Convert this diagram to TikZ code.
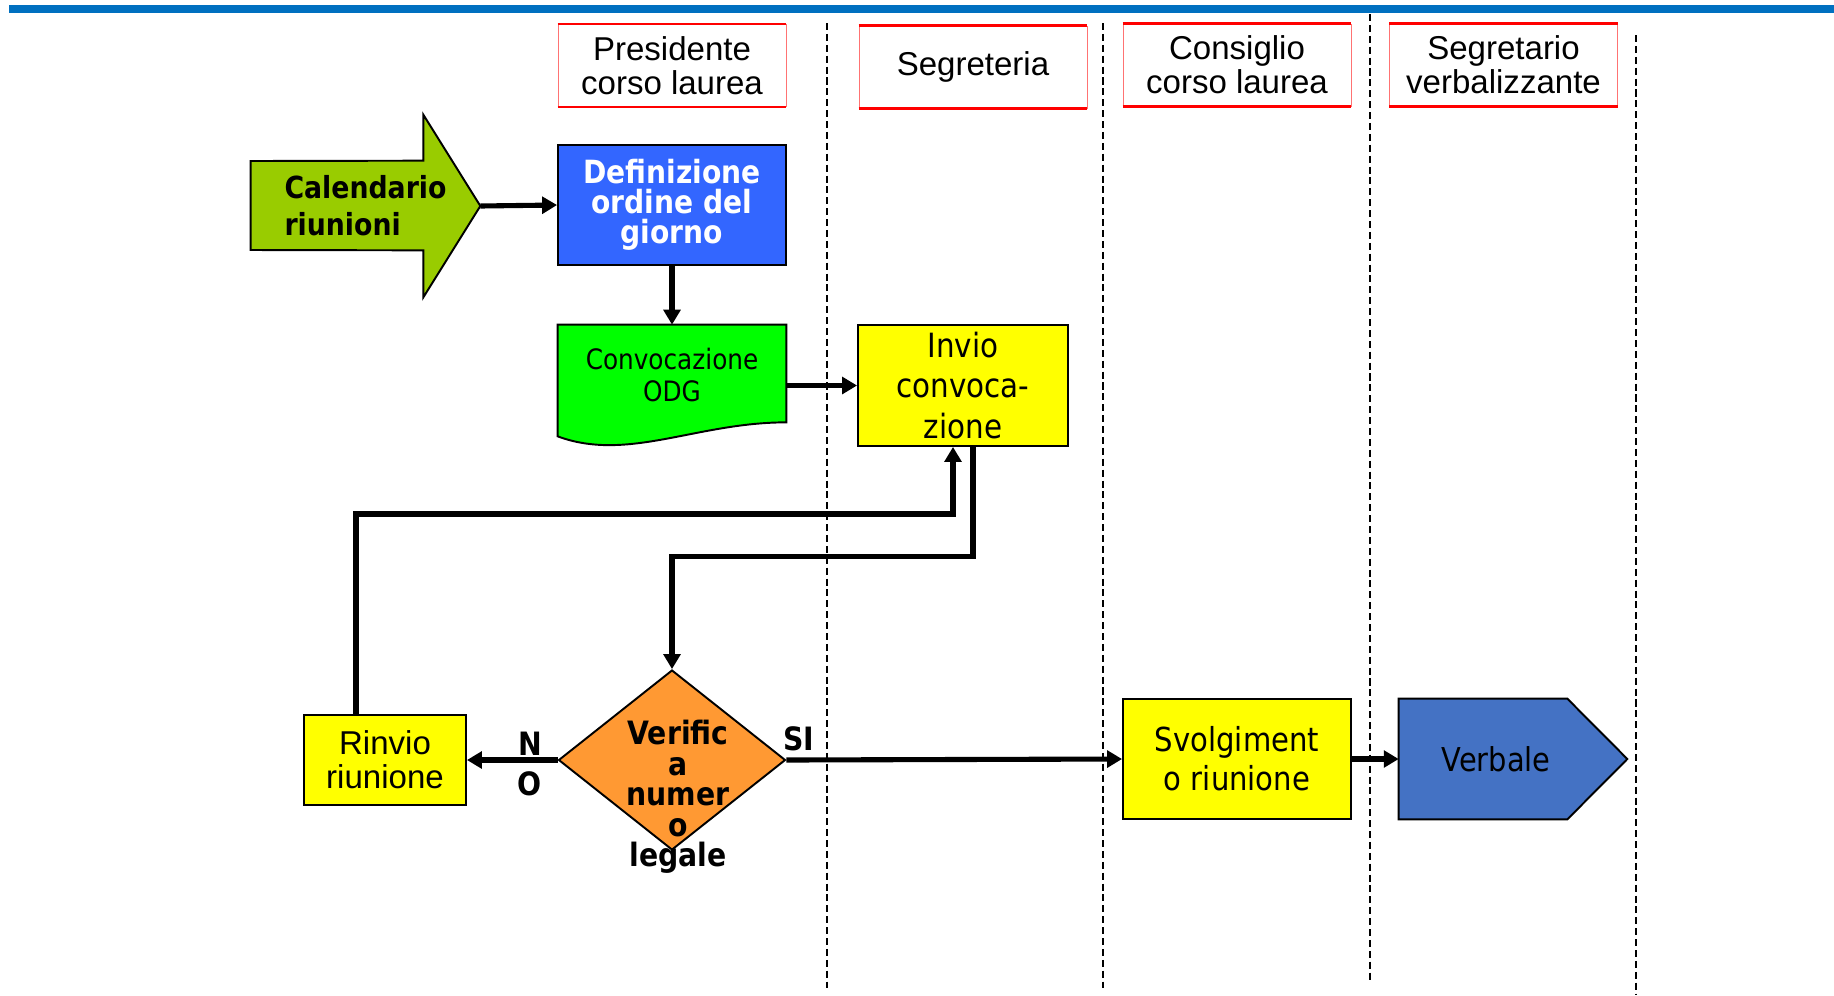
\documentclass[tikz,border=0pt]{standalone}
\usepackage{fontspec}
\setmainfont{Liberation Sans}
\newfontfamily\tahoma{DejaVu Sans}[FakeStretch=0.88]
\usepackage{xcolor}
\definecolor{fcbar}{RGB}{0,112,192}
\definecolor{fclime}{RGB}{153,204,0}
\definecolor{fcblue}{RGB}{51,102,255}
\definecolor{fcgreen}{RGB}{0,255,0}
\definecolor{fcyellow}{RGB}{255,255,0}
\definecolor{fcorange}{RGB}{255,153,51}
\definecolor{fcsteel}{RGB}{68,114,196}
\usetikzlibrary{arrows.meta, shapes.geometric, calc, backgrounds}

\tikzset{
  lanehead/.style={draw=red!55, line width=0.5pt, minimum width=4.56cm, minimum height=1.64cm,
    inner sep=0pt, align=center, font=\fontsize{18.8pt}{19.3pt}\selectfont},
  box/.style={draw, line width=1.1pt, inner sep=0pt, align=center},
  flow/.style={line width=2.9pt, -{Triangle[length=8.5pt,width=9.5pt]}},
  lane/.style={line width=1pt, dash pattern=on 4pt off 2.2pt},
}

\begin{document}
\begin{tikzpicture}[x=0.02cm, y=-0.02cm]
      \useasboundingbox (0,0) rectangle (1834,995);
      % Top bar
      \fill[fcbar] (9,5) rectangle (1834,13);
      % Lane separators
      \draw[lane] (827,23) -- (827,988);
      \draw[lane] (1103,23) -- (1103,988);
      \draw[lane] (1370,14) -- (1370,980);
      \draw[lane] (1636,35) -- (1636,994);
      % Lane headers
      \node[lanehead] (hpres) at (672,65.5) {Presidente\\corso laurea};
      \node[lanehead] (hsegr) at (973,67) {Segreteria};
      \node[lanehead] (hcons) at (1237,65) {Consiglio\\corso laurea};
      \node[lanehead] (hverb) at (1503.5,65) {Segretario\\verbalizzante};
      \foreach \h in {hpres,hsegr,hcons,hverb}
        \draw[red, line width=1.6pt] (\h.north west) -- (\h.north east) (\h.south west) -- (\h.south east);
      % Process steps
      \node[align=left, inner sep=0pt, minimum width=4.58cm, minimum height=3.64cm,
        font=\tahoma\bfseries\fontsize{17.3pt}{21pt}\selectfont] (cal) at (365.5,206) {Calendario\\riunioni};
      \node[box, fill=fcblue, text=white, minimum width=4.56cm, minimum height=2.4cm,
        font=\tahoma\bfseries\fontsize{18.2pt}{17pt}\selectfont] (def) at (672,205) {Definizione\\ordine del\\giorno};
      \node[align=center, inner sep=0pt, minimum width=4.56cm, minimum height=2.42cm, text depth=12pt,
        font=\tahoma\fontsize{16pt}{18.2pt}\selectfont] (odg) at (672,385.5) {Convocazione\\ODG};
      \node[box, fill=fcyellow, minimum width=4.2cm, minimum height=2.42cm,
        font=\tahoma\fontsize{19pt}{22.8pt}\selectfont] (invio) at (963,385.5) {Invio\\convoca-\\zione};
      \node[diamond, draw, fill=fcorange, line width=1.1pt, inner sep=0pt,
        minimum width=4.54cm, minimum height=3.6cm] (ver) at (672,760) {};
      \node[align=center, inner sep=0pt, font=\tahoma\bfseries\fontsize{18.3pt}{17.4pt}\selectfont]
        (vertxt) at (678,797) {Verific\\a\\numer\\o\\legale};
      \node[box, fill=fcyellow, minimum width=3.24cm, minimum height=1.8cm,
        font=\fontsize{18.8pt}{19.3pt}\selectfont] (rinvio) at (385,760) {Rinvio\\riunione};
      \node[box, fill=fcyellow, minimum width=4.56cm, minimum height=2.4cm,
        font=\tahoma\fontsize{18.8pt}{22.2pt}\selectfont] (svolg) at (1237,759) {Svolgiment\\o riunione};
      \node[inner sep=0pt, minimum width=4.56cm, minimum height=2.4cm,
        font=\tahoma\fontsize{18.7pt}{22pt}\selectfont] (verb) at (1513,759) {Verbale\kern0.68cm};
      % Branch labels
      \node[align=center, inner sep=0pt, font=\tahoma\bfseries\fontsize{18.3pt}{22.8pt}\selectfont] (nolab) at (530,764) {N\\O};
      \node[inner sep=0pt, font=\tahoma\bfseries\fontsize{18.3pt}{22pt}\selectfont] (silab) at (799,739) {SI};
      % Outlined shapes behind the texts
      \begin{scope}[on background layer]
        \draw[fill=fclime, line width=1.1pt] ($(cal.west)+(0,-45)$) -- ($(cal.north east)+(-57,46)$)
          -- ($(cal.north east)+(-57,0)$) -- (cal.east) -- ($(cal.south east)+(-57,0)$)
          -- ($(cal.south east)+(-57,-47)$) -- ($(cal.west)+(0,44)$) -- cycle;
        \draw[fill=fcgreen, line width=1.1pt] (odg.north west) -- (odg.north east) -- ($(odg.south east)+(0,-24)$)
          .. controls ($(odg.south east)+(-90,-24)$) and ($(odg.south west)+(70,16)$) .. ($(odg.south west)+(0,-10)$) -- cycle;
        \draw[fill=fcsteel, line width=1.1pt] (verb.north west) -- ($(verb.north east)+(-60,0)$) -- (verb.east)
          -- ($(verb.south east)+(-60,0)$) -- (verb.south west) -- cycle;
      \end{scope}
      % Connectors
      \draw[flow] (cal.east) -- (def.west);
      \draw[flow] (def.south) -- (odg.north);
      \draw[flow] (odg.east) -- (invio.west);
      \draw[flow] ($(invio.south)+(10,0)$) |- ($(ver.north)+(0,-113)$) -- (ver.north);
      \draw[flow] ($(rinvio.north)+(-29,0)$) |- ($(invio.south)+(-10,67)$) -- ($(invio.south)+(-10,0)$);
      \draw[flow] (ver.west) -- (rinvio.east);
      \draw[flow] (ver.east) -- (svolg.west);
      \draw[flow] (svolg.east) -- (verb.west);
\end{tikzpicture}
\end{document}
